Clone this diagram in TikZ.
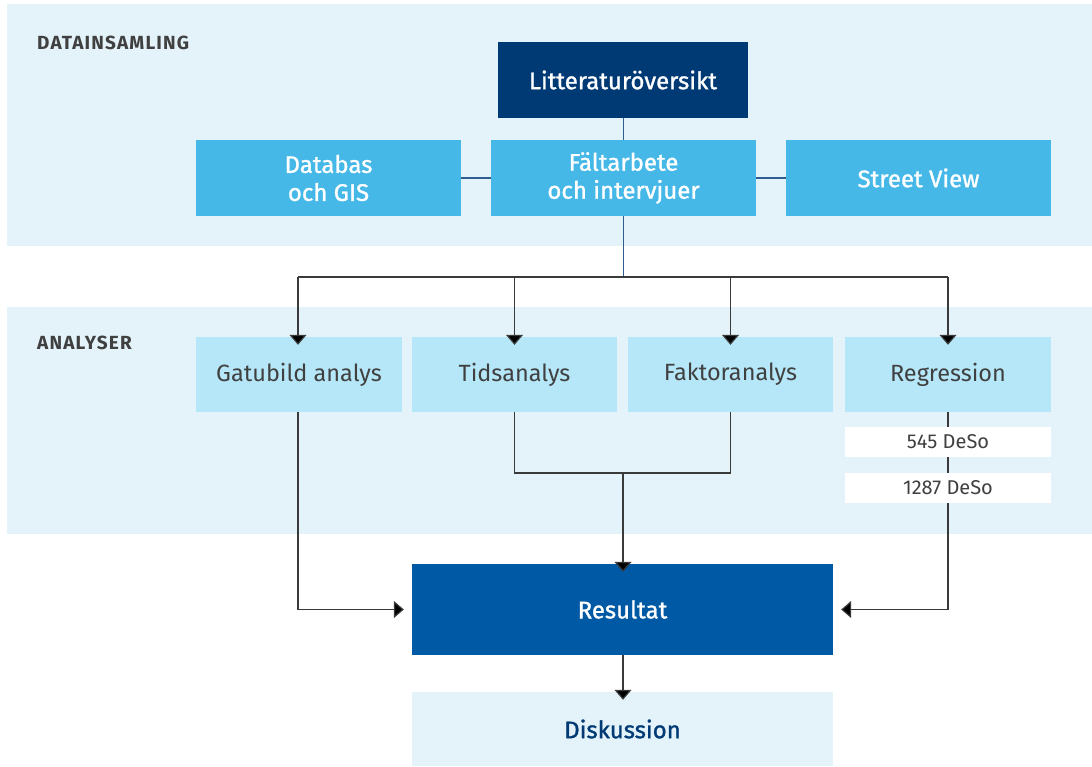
\documentclass[tikz,border=0pt]{standalone}
\usepackage{fontspec}
\setmainfont{Fira Sans}
\newfontfamily\medfont[FakeBold=1.2]{Fira Sans}
\newfontfamily\lblfont[LetterSpace=6]{Fira Sans}
\usetikzlibrary{arrows.meta}
\definecolor{bandc}{HTML}{E4F3FA}
\definecolor{navy}{HTML}{003A75}
\definecolor{midb}{HTML}{46B8E8}
\definecolor{lightb}{HTML}{B5E7F8}
\definecolor{resc}{HTML}{0059A4}
\definecolor{txtg}{HTML}{404040}
\definecolor{linkc}{HTML}{2E5E90}
\definecolor{arrc}{HTML}{3A3A3A}
\tikzset{
  box/.style={inner sep=0pt, align=center, text=white, font=\medfont\fontsize{24}{28}\selectfont},
  topbox/.style={box, fill=navy, minimum width=250pt, minimum height=76pt},
  srcbox/.style={box, fill=midb, minimum width=265pt, minimum height=76pt},
  anbox/.style={inner sep=0pt, fill=lightb, text=txtg, minimum width=206pt, minimum height=75pt, font=\fontsize{23.5}{28}\selectfont},
  desobox/.style={inner sep=0pt, fill=white, text=txtg, minimum width=206pt, minimum height=30pt, font=\fontsize{20}{23}\selectfont},
  resbox/.style={box, fill=resc, minimum width=421pt, minimum height=91pt},
  diskbox/.style={inner sep=0pt, fill=bandc, text=navy, minimum width=421pt, minimum height=74pt, font=\medfont\fontsize{24}{28}\selectfont},
  seclabel/.style={anchor=west, inner sep=0pt, text=txtg, font=\lblfont\bfseries\fontsize{19}{22}\selectfont},
  link/.style={draw=linkc, line width=1.2pt},
  arr/.style={draw=arrc, line width=1.2pt, -{Triangle[width=17pt,length=10pt,fill=black]}},
  plain/.style={draw=arrc, line width=1.2pt}
}
\begin{document}
\begin{tikzpicture}[x=1pt,y=-1pt]
\useasboundingbox (0,0) rectangle (1092,766);
% bands
\fill[bandc] (7,4) rectangle (1092,246);
\fill[bandc] (7,307) rectangle (1092,534);
\node[seclabel] (l1) at (37,43) {DATAINSAMLING};
\node[seclabel] (l2) at (37,343) {ANALYSER};
% top
\node[topbox] (lit) at (623,80) {Litteraturöversikt};
\node[srcbox] (db) at (328.5,178) {Databas\\och GIS};
\node[srcbox] (falt) at (623.5,178) {Fältarbete\\och intervjuer};
\node[srcbox] (sv) at (918.5,178) {Street View};
% analyses
\node[anbox] (gat) at (299,374.5) {Gatubild analys};
\node[anbox, minimum width=205pt] (tid) at (514.5,374.5) {Tidsanalys};
\node[anbox, minimum width=205pt] (fak) at (730.5,374.5) {Faktoranalys};
\node[anbox] (reg) at (948,374.5) {Regression};
% result
\node[resbox] (res) at (622.5,609.5) {Resultat};
\node[diskbox] (disk) at (622.5,729) {Diskussion};
% connectors top
\draw[link] (lit.south -| falt.north) -- (falt.north);
\draw[link] (db.east) -- (falt.west);
\draw[link] (falt.east) -- (sv.west);
\coordinate (split) at (623.5,277);
\draw[link] (falt.south) -- (split);
\draw[plain] (298,277) -- (948,277);
\draw[arr] (298,277) -- ([yshift=-8pt]gat.north -| 298,0);
\draw[arr] (tid.north |- split) -- ([yshift=-8pt]tid.north);
\draw[arr] (fak.north |- split) -- ([yshift=-8pt]fak.north);
\draw[arr] (reg.north |- split) -- ([yshift=-8pt]reg.north);
% to result
\coordinate (join) at (623,473);
\draw[plain] (tid.south) |- (join) -| (fak.south);
\draw[arr] (join) -- ([yshift=-8pt]res.north -| join);
\draw[arr] (gat.south -| 298,0) |- ([xshift=-8pt]res.west);
\draw[arr] (reg.south) |- ([xshift=8pt]res.east);
\draw[arr] (res.south -| join) -- ([yshift=-8pt]disk.north -| join);
% DeSo boxes on top of line
\node[desobox] (d1) at (948,442) {545 DeSo};
\node[desobox] (d2) at (948,488) {1287 DeSo};
\end{tikzpicture}
\end{document}
